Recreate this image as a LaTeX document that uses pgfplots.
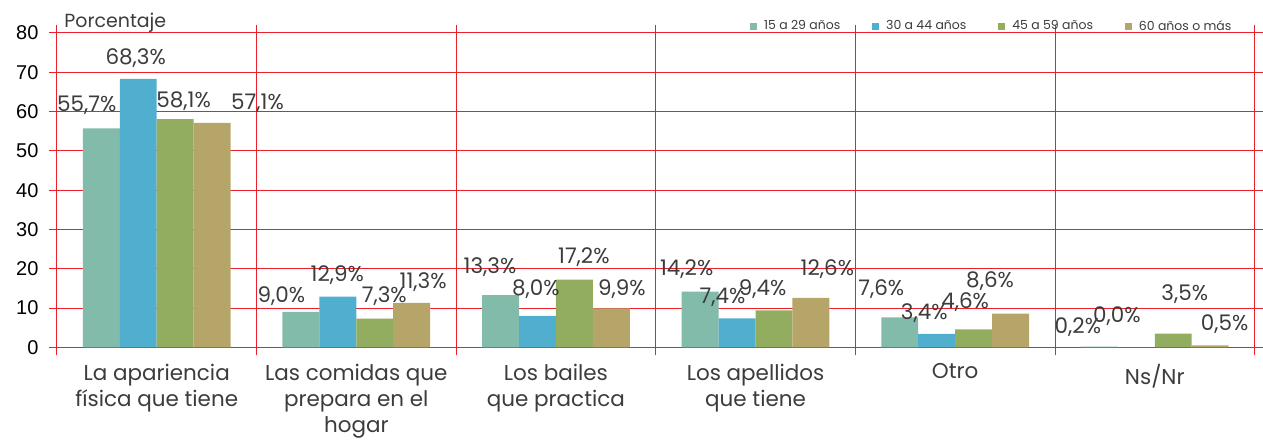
\documentclass[border=0pt]{standalone}
\usepackage{fontspec}
\setmainfont{Poppins}
\newfontfamily\tickfont{Liberation Sans}
\usepackage{pgfplots}
\pgfplotsset{compat=1.18}
\definecolor{cA}{RGB}{130,187,170}
\definecolor{cB}{RGB}{80,174,207}
\definecolor{cC}{RGB}{147,173,96}
\definecolor{cD}{RGB}{181,165,105}
\definecolor{gridred}{RGB}{236,32,42}
\definecolor{txt}{RGB}{60,60,60}
\begin{document}
\begin{tikzpicture}
\begin{axis}[
  scale only axis, width=1200pt, height=315pt,
  xmin=-0.5, xmax=5.5, ymin=0, ymax=80,
  clip=false,
  axis line style={draw=gridred, line width=0.9pt},
  xtick={-0.5,0.5,1.5,2.5,3.5,4.5,5.5}, xticklabels={},
  ytick={0,10,...,80},
  xmajorgrids, ymajorgrids,
  grid style={gridred, line width=0.9pt},
  tick style={gridred, line width=0.9pt},
  tick align=outside, major tick length=8pt,
  extra x ticks={0,1,2,3,4,5},
  extra x tick labels={{La apariencia\\física que tiene},{Las comidas que\\prepara en el\\hogar},{Los bailes\\que practica},{Los apellidos\\que tiene},{Otro},{Ns/Nr}},
  extra x tick style={grid=none, major tick length=0pt,
    tick label style={align=center, anchor=north, text=txt, yshift=-13pt,
      font=\fontsize{21.5}{26}\selectfont}},
  yticklabel style={font=\tickfont\fontsize{20}{20}\selectfont, text=black, xshift=-7pt},
  /pgf/number format/assume math mode=true,
  legend columns=4,
  legend style={draw=none, fill=none, at={(1,1)}, anchor=south east,
    xshift=-18pt, yshift=-3pt,
    font=\fontsize{12.5}{13}\selectfont, text=txt,
    /tikz/every odd column/.append style={column sep=5pt},
    /tikz/every even column/.append style={column sep=30pt}},
  legend cell align=left,
]
\addplot[ybar, bar width=0.185, bar shift=-0.2775, fill=cA, draw=none,
  legend image code/.code={\fill[cA] (0pt,-3.5pt) rectangle (7pt,3.5pt);}]
  coordinates {(0,55.7)(1,9.0)(2,13.3)(3,14.2)(4,7.6)(5,0.2)};
\addlegendentry{15 a 29 años}
\addplot[ybar, bar width=0.185, bar shift=-0.0925, fill=cB, draw=none,
  legend image code/.code={\fill[cB] (0pt,-3.5pt) rectangle (7pt,3.5pt);}]
  coordinates {(0,68.3)(1,12.9)(2,8.0)(3,7.4)(4,3.4)(5,0.0)};
\addlegendentry{30 a 44 años}
\addplot[ybar, bar width=0.185, bar shift=0.0925, fill=cC, draw=none,
  legend image code/.code={\fill[cC] (0pt,-3.5pt) rectangle (7pt,3.5pt);}]
  coordinates {(0,58.1)(1,7.3)(2,17.2)(3,9.4)(4,4.6)(5,3.5)};
\addlegendentry{45 a 59 años}
\addplot[ybar, bar width=0.185, bar shift=0.2775, fill=cD, draw=none,
  legend image code/.code={\fill[cD] (0pt,-3.5pt) rectangle (7pt,3.5pt);}]
  coordinates {(0,57.1)(1,11.3)(2,9.9)(3,12.6)(4,8.6)(5,0.5)};
\addlegendentry{60 años o más}
\addplot[forget plot, only marks, mark=none, nodes near coords,
  point meta=explicit symbolic,
  nodes near coords style={anchor=center, text=txt, inner sep=0pt,
    font=\fontsize{21.5}{22}\selectfont}]
  table[meta=lab] {
x y lab
-0.35 61.7 55,7\%
-0.105 73.65 68,3\%
0.135 62.7 58,1\%
0.505 62.2 57,1\%
0.625 12.95 9,0\%
0.905 18.5 12,9\%
1.14 12.95 7,3\%
1.335 16.5 11,3\%
1.67 20.3 13,3\%
1.9 14.7 8,0\%
2.14 22.9 17,2\%
2.33 14.7 9,9\%
2.655 19.8 14,2\%
2.835 12.7 7,4\%
3.035 14.7 9,4\%
3.36 19.8 12,6\%
3.63 14.7 7,6\%
3.845 8.6 3,4\%
4.05 11.4 4,6\%
4.175 16.8 8,6\%
4.615 5.1 0,2\%
4.81 7.9 0,0\%
5.15 13.5 3,5\%
5.35 5.8 0,5\%
};
\node[anchor=base west, text=txt, font=\fontsize{19}{19}\selectfont]
  at ([shift={(4pt,5pt)}]rel axis cs:0,1) {Porcentaje};
\end{axis}
\path ([shift={(-57pt,-86pt)}]current axis.south west) rectangle ++(1263pt,434pt);
\end{tikzpicture}
\end{document}
